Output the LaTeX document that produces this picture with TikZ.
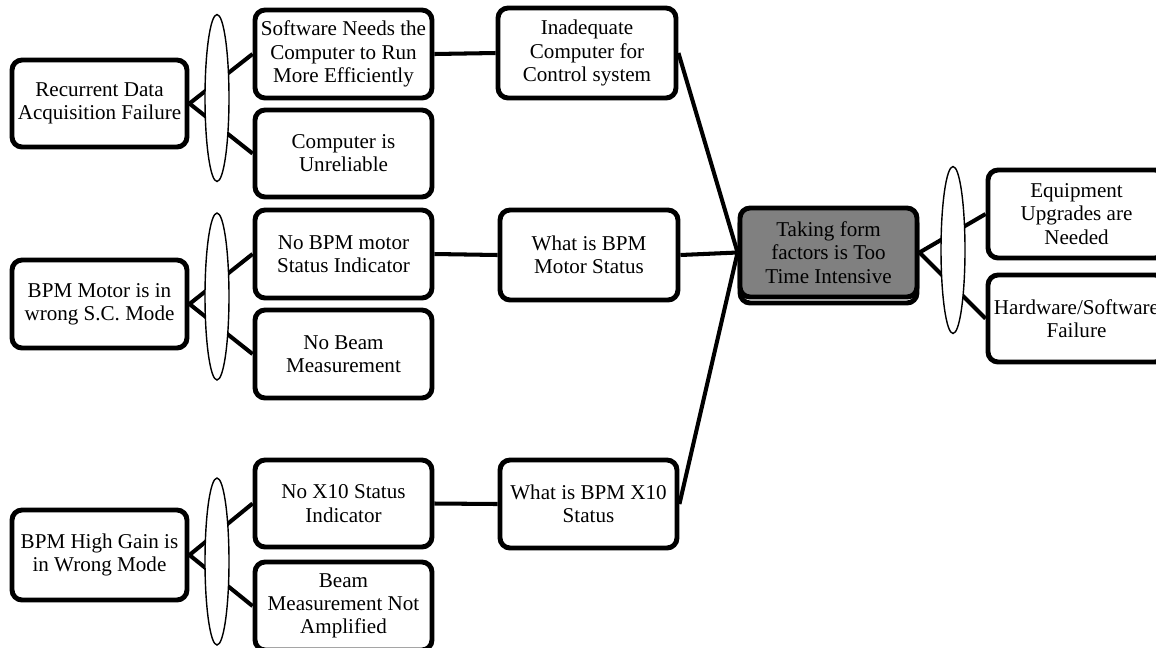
\documentclass[tikz,border=0pt]{standalone}
\usepackage{fontspec}
\setmainfont{Liberation Serif}
\usetikzlibrary{shapes.geometric,backgrounds}
\definecolor{boxgray}{RGB}{128,128,128}
\tikzset{
  cbox/.style={draw=black, line width=2.8pt, rounded corners=0.2cm, fill=white,
    align=center, inner sep=0pt, font=\fontsize{12}{13.2}\selectfont,
    minimum width=#1},
  cbox/.default=3.54cm,
  oval/.style={draw=black, line width=0.8pt, fill=white, ellipse, inner sep=0pt,
    minimum width=0.48cm, minimum height=3.34cm},
  link/.style={line width=2.3pt, black},
}
\begin{document}
\begin{tikzpicture}[x=0.02cm,y=-0.02cm]
\useasboundingbox (0,0) rectangle (1156,647);
\clip (0,0) rectangle (1156,647);
% column 1
\node[cbox=3.5cm, minimum height=1.74cm] (rec) at (99.5,103.5) {Recurrent Data\\Acquisition Failure};
\node[cbox=3.5cm, minimum height=1.76cm] (mot) at (99.5,304) {BPM Motor is in\\wrong S.C. Mode};
\node[cbox=3.5cm, minimum height=1.8cm] (hg) at (99.5,555) {BPM High Gain is\\in Wrong Mode};
% ellipses
\node[oval] (e1) at (217,98) {};
\node[oval] (e2) at (217,296.5) {};
\node[oval] (e3) at (217,561.5) {};
\node[oval] (e4) at (953,250) {};
% column 2
\node[cbox, minimum height=1.76cm] (sw) at (343.5,54) {Software Needs the\\Computer to Run\\More Efficiently};
\node[cbox, minimum height=1.74cm] (cu) at (343.5,153.5) {Computer is\\Unreliable};
\node[cbox, minimum height=1.76cm] (nbm) at (343.5,254) {No BPM motor\\Status Indicator};
\node[cbox, minimum height=1.76cm] (nbeam) at (343.5,354) {No Beam\\Measurement};
\node[cbox, minimum height=1.74cm] (nx10) at (343.5,503.5) {No X10 Status\\Indicator};
\node[cbox, minimum height=1.76cm] (bmna) at (343.5,606) {Beam\\Measurement Not\\Amplified};
% column 3
\node[cbox=3.56cm, minimum height=1.8cm] (inad) at (587,53) {Inadequate\\Computer for\\Control system};
\node[cbox=3.56cm, minimum height=1.8cm] (wmot) at (589,255) {What is BPM\\Motor Status};
\node[cbox=3.54cm, minimum height=1.76cm] (wx10) at (588.5,504) {What is BPM X10\\Status};
% centre
\node[cbox=3.54cm, minimum height=1.78cm] (back) at (828.5,258.5) {};
\node[cbox=3.54cm, minimum height=1.78cm, fill=boxgray] (ctr) at (828.5,252.5) {Taking form\\factors is Too\\Time Intensive};
% right
\node[cbox=3.54cm, minimum height=1.76cm] (eq) at (1076.5,214) {Equipment\\Upgrades are\\Needed};
\node[cbox=3.54cm, minimum height=1.74cm] (hw) at (1076.5,318.5) {Hardware/Software\\Failure};
% connectors
\begin{scope}[on background layer]
\draw[link] (rec.east) -- (sw.west);
\draw[link] (rec.east) -- (cu.west);
\draw[link] (mot.east) -- (nbm.west);
\draw[link] (mot.east) -- (nbeam.west);
\draw[link] (hg.east) -- (nx10.west);
\draw[link] (hg.east) -- (bmna.west);
\draw[link] (sw.east) -- (inad.west);
\draw[link] (nbm.east) -- (wmot.west);
\draw[link] (nx10.east) -- (wx10.west);
\draw[link] (inad.east) -- (ctr.west);
\draw[link] (wmot.east) -- (ctr.west);
\draw[link] (wx10.east) -- (ctr.west);
\draw[link] (ctr.east) -- (eq.west);
\draw[link] (ctr.east) -- (hw.west);
\end{scope}
\end{tikzpicture}
\end{document}
